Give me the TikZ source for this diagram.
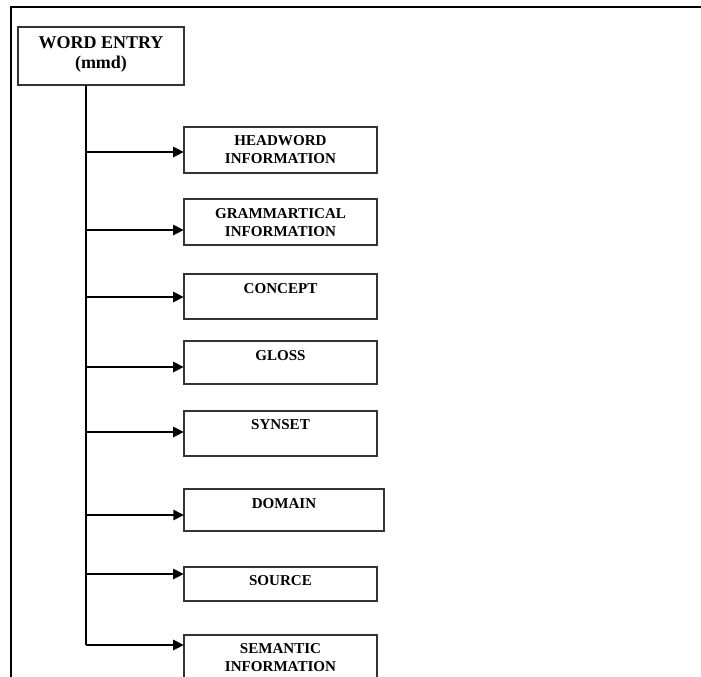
\documentclass[tikz,border=0pt]{standalone}
\usepackage{fontspec}
\setmainfont{Liberation Serif}
\usetikzlibrary{arrows.meta,calc}

\tikzset{every picture/.style={line width=0.75pt}}
\tikzset{
  entrybox/.style={draw={rgb, 255:red, 51; green, 51; blue, 51 }, line width=1.1pt, inner sep=0pt, outer sep=0pt},
  fieldbox/.style={entrybox, minimum width=145pt},
  titletext/.style={anchor=north, inner sep=0.75pt, align=center, font=\fontsize{13.5}{15}\selectfont\bfseries},
  fieldtext/.style={anchor=north, inner sep=0.75pt, align=center, font=\fontsize{11.3}{13.5}\selectfont\bfseries},
  trunk/.style={line width=1.1pt},
  branch/.style={line width=2.1pt, -{Triangle[length=8pt,width=7.5pt]}}
}

\begin{document}
\begin{tikzpicture}[x=0.75pt,y=0.75pt,yscale=-1,xscale=1]
\useasboundingbox (0,0) rectangle (701,676);
\clip (0,0) rectangle (701,676);

%Frame
\draw [line width=1.6pt] (11,690) -- (11,7) -- (710,7) ;

%Boxes
\node [entrybox, minimum width=124.5pt, minimum height=43.5pt] (word) at (101,56) {};
\node [fieldbox, minimum height=34.5pt] (headword) at (280.5,150) {};
\node [fieldbox, minimum height=34.5pt] (grammar) at (280.5,222) {};
\node [fieldbox, minimum height=33.75pt] (concept) at (280.5,296.5) {};
\node [fieldbox, minimum height=32.25pt] (gloss) at (280.5,362.5) {};
\node [fieldbox, minimum height=33.75pt] (synset) at (280.5,433.5) {};
\node [fieldbox, minimum width=150pt, minimum height=31.5pt] (domain) at (284,510) {};
\node [fieldbox, minimum height=25.5pt] (source) at (280.5,584) {};
\node [fieldbox, minimum height=42pt] (semantic) at (280.5,663) {};

% Text Node
\node [titletext] (word-t) at ($(word.north)+(0,8)$) {WORD ENTRY\\(mmd)};
\node [fieldtext] (headword-t) at ($(headword.north)+(0,7)$) {HEADWORD\\INFORMATION};
\node [fieldtext] (grammar-t) at ($(grammar.north)+(0,8)$) {GRAMMARTICAL\\INFORMATION};
\node [fieldtext] (concept-t) at ($(concept.north)+(0,8)$) {CONCEPT};
\node [fieldtext] (gloss-t) at ($(gloss.north)+(0,8)$) {GLOSS};
\node [fieldtext] (synset-t) at ($(synset.north)+(0,7)$) {SYNSET};
\node [fieldtext] (domain-t) at ($(domain.north)+(0,8)$) {DOMAIN};
\node [fieldtext] (source-t) at ($(source.north)+(0,7)$) {SOURCE};
\node [fieldtext] (semantic-t) at ($(semantic.north)+(0,7)$) {SEMANTIC\\INFORMATION};

%Connectors
\foreach \b/\y in {headword/152,grammar/230,concept/297,gloss/367,synset/432,domain/515,source/574,semantic/645}
  {\coordinate (j-\b) at (86,\y);
   \draw [branch] (j-\b) -- (j-\b -| \b.west);}
\draw [trunk] (word.south -| j-headword) -- (j-semantic) ;

\end{tikzpicture}
\end{document}
